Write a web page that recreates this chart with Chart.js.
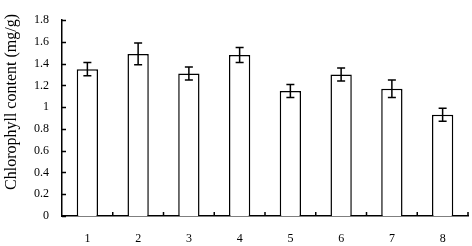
<!DOCTYPE html>
<html><head><meta charset="utf-8">
<script src="https://cdn.jsdelivr.net/npm/chart.js@4/dist/chart.umd.min.js"></script>
<style>html,body{margin:0;padding:0;background:#fff}#wrap{width:472px;height:246px}</style>
</head><body><div id="wrap"><canvas id="c" width="472" height="246"></canvas></div>
<script>
const categories = ['1','2','3','4','5','6','7','8'];
const chlorophyll = [1.35, 1.49, 1.31, 1.48, 1.15, 1.30, 1.17, 0.93];
const errors = [0.06, 0.10, 0.06, 0.07, 0.06, 0.06, 0.08, 0.06];
const yTicks = [0, 0.2, 0.4, 0.6, 0.8, 1, 1.2, 1.4, 1.6, 1.8];
const yTitle = 'Chlorophyll content (mg/g)';

const errorBars = {
  id: 'errorBars',
  afterDatasetsDraw(chart) {
    const ctx = chart.ctx, y = chart.scales.y;
    const meta = chart.getDatasetMeta(0);
    ctx.save();
    ctx.strokeStyle = '#000'; ctx.lineWidth = 1.5;
    meta.data.forEach((bar, i) => {
      const v = chlorophyll[i], e = errors[i];
      const yt = y.getPixelForValue(v + e), yb = y.getPixelForValue(v - e);
      const x = bar.x;
      ctx.beginPath();
      ctx.moveTo(x, yt); ctx.lineTo(x, yb);
      ctx.moveTo(x - 4, yt); ctx.lineTo(x + 4, yt);
      ctx.moveTo(x - 4, yb); ctx.lineTo(x + 4, yb);
      ctx.stroke();
    });
    ctx.restore();
  }
};
const innerTicks = {
  id: 'innerTicks',
  afterDraw(chart) {
    const ctx = chart.ctx, ys = chart.scales.y;
    const a = chart.chartArea;
    ctx.save();
    ctx.strokeStyle = '#000'; ctx.lineWidth = 1.5;
    ctx.beginPath();
    yTicks.forEach(t => {
      const py = Math.round(ys.getPixelForValue(t)) + 0.5;
      ctx.moveTo(a.left, py); ctx.lineTo(a.left + 4, py);
    });
    const n = categories.length;
    const w = (a.right - a.left) / n;
    for (let i = 1; i <= n; i++) {
      const px = a.left + i * w;
      ctx.moveTo(px, a.bottom); ctx.lineTo(px, a.bottom - 4);
    }
    ctx.stroke();
    ctx.fillStyle = '#000';
    ctx.font = '16px "Liberation Serif"';
    ctx.textAlign = 'center'; ctx.textBaseline = 'middle';
    ctx.translate(12, 102);
    ctx.rotate(-Math.PI / 2);
    ctx.fillText(yTitle, 0, 0);
    ctx.restore();
  }
};

new Chart(document.getElementById('c'), {
  type: 'bar',
  data: {
    labels: categories,
    datasets: [{
      data: chlorophyll,
      backgroundColor: '#fff',
      borderColor: '#000',
      borderWidth: 1.5,
      barPercentage: 0.42,
      categoryPercentage: 1
    }]
  },
  options: {
    responsive: false,
    animation: false,
    devicePixelRatio: 1,
    layout: { padding: { top: 10, right: 4, left: 0, bottom: 0 } },
    plugins: { legend: { display: false }, tooltip: { enabled: false } },
    scales: {
      x: {
        grid: { display: false, drawTicks: false },
        border: { display: true, color: '#000', width: 1.5 },
        ticks: { color: '#000', font: { family: 'Liberation Serif', size: 12 }, padding: 16 },
        afterFit(s) { s.height = 30; }
      },
      y: {
        min: 0, max: 1.8,
        grid: { display: false, drawTicks: false },
        border: { display: true, color: '#000', width: 1.5 },
        ticks: { stepSize: 0.2, color: '#000', padding: 13,
          font: { family: 'Liberation Serif', size: 12 },
          callback: (v) => String(Math.round(v * 10) / 10) },
        afterFit(s) { s.width = 62; }
      }
    }
  },
  plugins: [errorBars, innerTicks]
});
</script></body></html>
